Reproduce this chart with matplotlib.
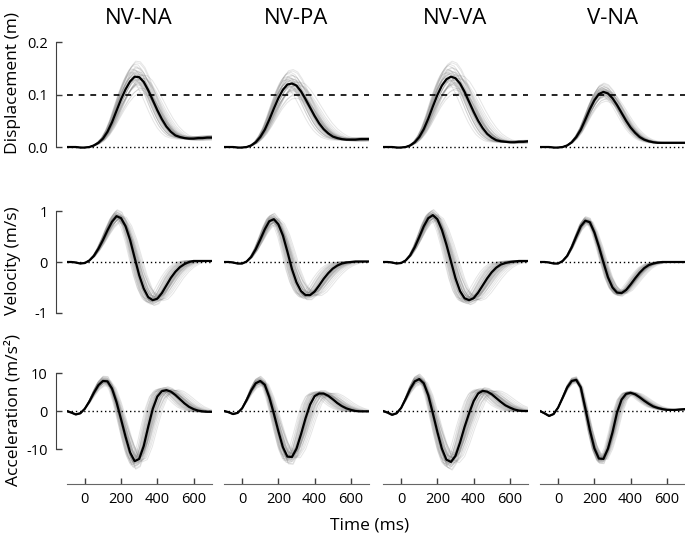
import numpy as np
import matplotlib
matplotlib.use("Agg")
import matplotlib.pyplot as plt

plt.rcParams['font.family'] = ['Open Sans', 'DejaVu Sans']

conditions = ["NV-NA", "NV-PA", "NV-VA", "V-NA"]
row_labels = ["Displacement (m)", "Velocity (m/s)", "Acceleration (m/s\u00b2)"]

# sample times of the mean traces (ms)
time_ms = np.arange(-100, 701, 25)

# mean displacement (m) per condition
disp_nvna = [0, 0, 0, -0.001, -0.001, 0.000, 0.003, 0.008, 0.016, 0.029, 0.047, 0.069, 0.091,
             0.110, 0.125, 0.134, 0.133, 0.124, 0.108, 0.089, 0.070, 0.053, 0.039, 0.029, 0.022,
             0.019, 0.017, 0.016, 0.016, 0.017, 0.017, 0.018, 0.018]
disp_nvpa = [0, 0, 0, -0.001, -0.001, 0.000, 0.003, 0.009, 0.019, 0.033, 0.052, 0.073, 0.093,
             0.109, 0.119, 0.121, 0.117, 0.106, 0.091, 0.075, 0.059, 0.045, 0.034, 0.026, 0.020,
             0.017, 0.015, 0.014, 0.014, 0.014, 0.015, 0.015, 0.015]
disp_nvva = [0, 0, 0, -0.001, -0.001, 0.000, 0.003, 0.009, 0.019, 0.034, 0.054, 0.077, 0.099,
             0.117, 0.129, 0.134, 0.131, 0.121, 0.105, 0.086, 0.067, 0.050, 0.036, 0.025, 0.018,
             0.013, 0.011, 0.010, 0.009, 0.009, 0.010, 0.010, 0.011]
disp_vna = [0, 0, 0, -0.001, -0.001, 0.000, 0.003, 0.009, 0.019, 0.033, 0.052, 0.072, 0.089,
            0.101, 0.105, 0.102, 0.093, 0.080, 0.065, 0.050, 0.037, 0.027, 0.019, 0.014, 0.011,
            0.009, 0.008, 0.008, 0.008, 0.008, 0.008, 0.008, 0.008]

# mean velocity (m/s)
vel_nvna = [0, 0, -0.01, -0.03, -0.02, 0.03, 0.12, 0.26, 0.43, 0.62, 0.79, 0.90, 0.86, 0.70,
            0.43, 0.08, -0.26, -0.52, -0.69, -0.75, -0.72, -0.61, -0.46, -0.31, -0.19, -0.10,
            -0.04, 0.00, 0.02, 0.02, 0.02, 0.02, 0.02]
vel_nvpa = [0, 0, -0.01, -0.03, -0.03, 0.01, 0.10, 0.25, 0.44, 0.64, 0.80, 0.84, 0.74, 0.52,
            0.20, -0.14, -0.40, -0.57, -0.65, -0.65, -0.58, -0.46, -0.33, -0.22, -0.13, -0.07,
            -0.03, -0.01, 0.00, 0.01, 0.01, 0.01, 0.01]
vel_nvva = [0, 0, -0.01, -0.03, -0.02, 0.03, 0.13, 0.29, 0.49, 0.70, 0.86, 0.92, 0.84, 0.63,
            0.34, 0.01, -0.32, -0.57, -0.71, -0.75, -0.71, -0.60, -0.46, -0.32, -0.20, -0.11,
            -0.05, -0.02, 0.00, 0.01, 0.02, 0.02, 0.02]
vel_vna = [0, 0, -0.01, -0.03, -0.03, 0.02, 0.12, 0.29, 0.50, 0.70, 0.81, 0.78, 0.58, 0.30,
           -0.01, -0.30, -0.50, -0.60, -0.61, -0.55, -0.44, -0.32, -0.21, -0.12, -0.06, -0.03,
           -0.01, 0.00, 0.00, 0.00, 0.00, 0.00, 0.00]

# mean acceleration (m/s^2)
acc_nvna = [0, -0.4, -0.9, -0.6, 0.6, 2.5, 4.8, 6.8, 7.9, 7.8, 5.9, 2.3, -2.2, -6.8, -10.9,
            -13.2, -12.6, -9.2, -4.1, 0.6, 3.8, 5.2, 5.5, 5.1, 4.2, 3.1, 2.0, 1.1, 0.5, 0.1,
            -0.1, -0.2, -0.2]
acc_nvpa = [0, -0.3, -0.8, -0.5, 0.7, 2.9, 5.4, 7.3, 7.9, 6.9, 3.6, -0.7, -5.3, -9.5, -12.0,
            -12.1, -9.9, -6.1, -1.9, 1.7, 3.9, 4.6, 4.6, 4.0, 3.1, 2.1, 1.3, 0.7, 0.3, 0.0,
            -0.1, -0.1, -0.1]
acc_nvva = [0, -0.4, -1.0, -0.6, 0.8, 3.2, 5.8, 7.8, 8.4, 7.3, 4.1, -0.6, -5.5, -9.9, -12.8,
            -13.4, -11.8, -8.3, -4.2, -0.6, 2.6, 4.6, 5.3, 5.1, 4.4, 3.4, 2.4, 1.5, 0.9, 0.4,
            0.1, 0.0, 0.0]
acc_vna = [0, -0.6, -1.3, -0.8, 0.9, 3.5, 6.2, 7.9, 8.2, 6.2, 0.7, -5.0, -9.8, -12.5, -12.6,
           -9.9, -5.6, -0.4, 3.0, 4.5, 4.8, 4.4, 3.6, 2.7, 1.9, 1.2, 0.8, 0.5, 0.3, 0.3, 0.3,
           0.4, 0.5]

means = [
    [disp_nvna, disp_nvpa, disp_nvva, disp_vna],
    [vel_nvna, vel_nvpa, vel_nvva, vel_vna],
    [acc_nvna, acc_nvpa, acc_nvva, acc_vna],
]

# single trials: per-trial amplitude and duration deviations (in units of spread)
trial_gain_z = [0.3, -0.8, 1.2, -0.1, 0.6, -1.5, 0.0, 0.9, -0.4, 1.8, -0.6, 0.2, -1.1, 0.5,
                -0.2, 1.4, -0.9, 0.1, 0.7, -2.1, 0.4, -0.3, 1.0, -0.7, 0.8, -1.3, 0.2, -0.5,
                1.6, -0.1, 0.5, -1.0, 0.3, -0.4, 1.1, -1.7, 0.6, -0.2, 0.0, 2.0]
trial_stretch_z = [-0.5, 0.9, 0.1, -1.2, 0.6, 1.4, -0.3, -0.8, 0.4, 0.2, -1.6, 1.0, 0.3, -0.1,
                   1.8, -0.6, 0.7, -0.9, 0.0, 1.2, -0.4, 0.5, -1.1, 0.8, -0.2, 0.1, 2.1, -0.7,
                   -0.3, 0.6, -1.4, 0.4, 1.1, -0.5, 0.2, 0.9, -1.0, 1.5, -0.2, 0.3]
# spread of amplitude per row (rows) and condition (columns), and of duration per condition
gain_spread = [
    [0.11, 0.11, 0.11, 0.08],
    [0.07, 0.07, 0.06, 0.05],
    [0.08, 0.08, 0.08, 0.05],
]
stretch_spread = [0.07, 0.08, 0.08, 0.045]

row_ylim = [(-0.015, 0.2), (-1.05, 1.05), (-19.2, 11.0)]
row_bounds = [(0, 0.2), (-1, 1), (-10, 10)]
row_ticks = [[0, 0.1, 0.2], [-1, 0, 1], [-10, 0, 10]]
row_ticklabels = [["0.0", "0.1", "0.2"], ["-1", "0", "1"], ["-10", "0", "10"]]
x_ticks = [0, 200, 400, 600]

# layout in pixels
W, H = 685, 545
col_left = [66.7, 224, 383, 540]
col_w = 145
row_px = [(42, 154.9), (208.5, 315.5), (369.2, 484)]
label_y = [83, 261, 410]

fig = plt.figure(figsize=(W / 100, H / 100), dpi=100)
t = np.asarray(time_ms, dtype=float)

for r in range(3):
    for c in range(4):
        top, bot = row_px[r]
        ax = fig.add_axes([col_left[c] / W, 1 - bot / H, col_w / W, (bot - top) / H])
        y = np.asarray(means[r][c], dtype=float)

        # grey single trials
        for gz, sz in zip(trial_gain_z, trial_stretch_z):
            s = 1 + stretch_spread[c] * sz
            g = 1 + gain_spread[r][c] * gz
            xs = np.r_[t[0] - 50, t * s, t[-1] + 50]
            ys = np.r_[y[0], y * g, y[-1] * g]
            ax.plot(xs, ys, color="0.5", lw=0.7, alpha=0.2, zorder=1)

        ax.axhline(0, color="black", lw=1.0, ls=(0, (1, 2)), zorder=2)
        if r == 0:
            ax.axhline(0.1, color="black", lw=1.2, ls=(0, (3.5, 3.5)), zorder=2)
        ax.plot(t, y, color="black", lw=1.6, zorder=3)

        ax.set_xlim(-100, 700)
        ax.set_ylim(*row_ylim[r])
        for side in ["top", "right"]:
            ax.spines[side].set_visible(False)
        ax.tick_params(direction="in", length=4, width=1, colors="0.25",
                       labelsize=10.5, labelcolor="black", pad=6)

        if c == 0:
            ax.spines["left"].set_position(("outward", 7.7))
            ax.spines["left"].set_bounds(*row_bounds[r])
            ax.spines["left"].set_color("0.25")
            ax.set_yticks(row_ticks[r])
            ax.set_yticklabels(row_ticklabels[r])
        else:
            ax.spines["left"].set_visible(False)
            ax.tick_params(left=False, labelleft=False)

        if r == 2:
            ax.spines["bottom"].set_color("0.4")
            ax.set_xticks(x_ticks)
        else:
            ax.spines["bottom"].set_visible(False)
            ax.tick_params(bottom=False, labelbottom=False)

        if r == 0:
            ax.set_title(conditions[c], fontsize=16, pad=13)

    fig.text(13 / W, 1 - label_y[r] / H, row_labels[r], rotation=90,
             ha="center", va="center", fontsize=12.5)

fig.text(370 / W, 1 - 525 / H, "Time (ms)", ha="center", va="center", fontsize=12.5)

fig.savefig("out.png", dpi=100)
